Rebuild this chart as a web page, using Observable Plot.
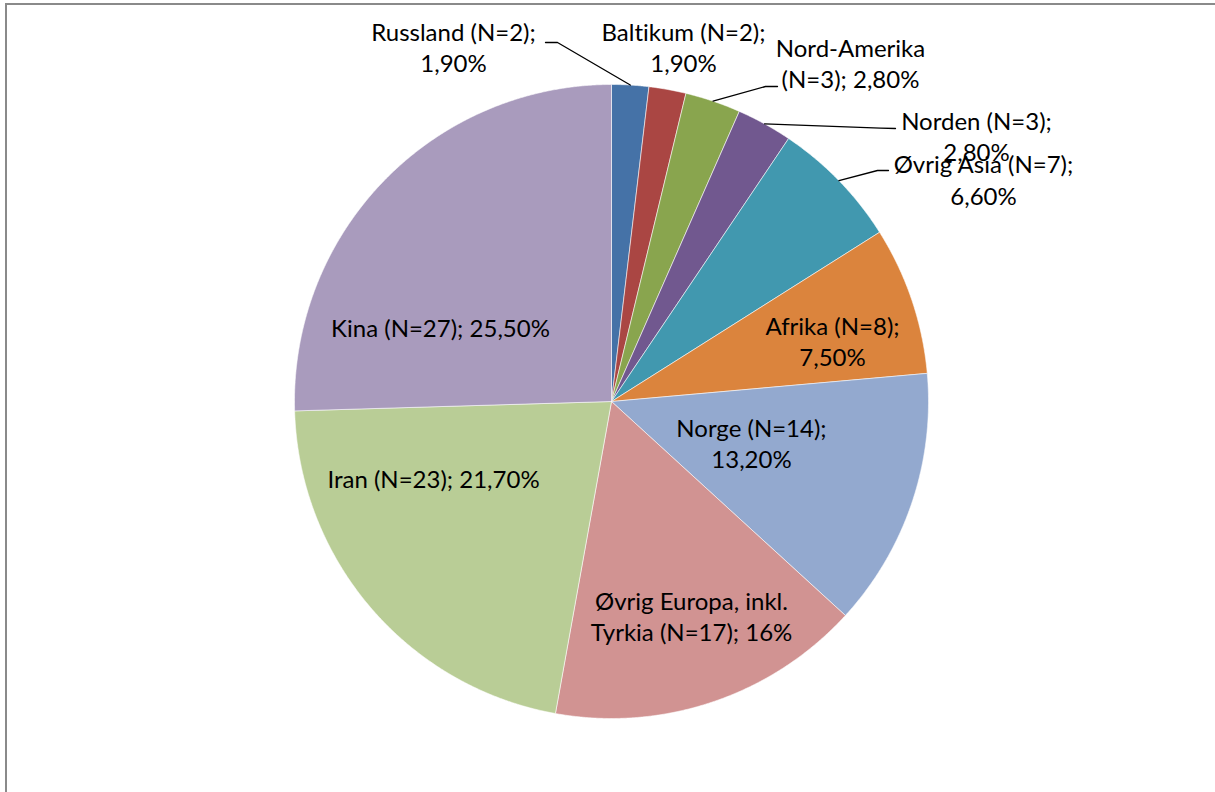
<!DOCTYPE html>
<html>
<head>
<meta charset="utf-8">
<script src="https://cdn.jsdelivr.net/npm/d3@7"></script>
<script src="https://cdn.jsdelivr.net/npm/@observablehq/plot@0.6"></script>
<style>
  html, body { margin: 0; padding: 0; background: #fff; overflow: hidden; width: 1215px; height: 792px; }
  #wrap { position: relative; width: 1215px; height: 792px; }
  #border { position: absolute; left: 5px; top: 3px; width: 1400px; height: 1000px; border: 2px solid #8a8a8a; box-sizing: border-box; pointer-events: none; }
  #chart { position: absolute; left: 0; top: 0; }
  svg text { font-variant-ligatures: none; font-feature-settings: "liga" 0, "clig" 0; }
</style>
</head>
<body>
<div id="wrap"><div id="chart"></div><div id="border"></div></div>
<script>
// ---- data ----
const categories = ["Russland", "Baltikum", "Nord-Amerika", "Norden", "Øvrig Asia", "Afrika", "Norge", "Øvrig Europa, inkl. Tyrkia", "Iran", "Kina"];
const counts = [2, 2, 3, 3, 7, 8, 14, 17, 23, 27];
const percentLabels = ["1,90%", "1,90%", "2,80%", "2,80%", "6,60%", "7,50%", "13,20%", "16%", "21,70%", "25,50%"];

// ---- styles / layout ----
const colors = ["#4572A7", "#AA4643", "#89A54E", "#71588F", "#4198AF", "#DB843D", "#93A9CF", "#D19392", "#B9CD96", "#A99BBD"];
const cx = 611, cy = 401, R = 317;
const fontSize = 24;
const lineH = 1.32;
const textShift = -9;
// label layout in pixels: center x, middle y of the text block, line-break token
const labelLayout = [
  {px: 453, py: 55, brk: "; "},
  {px: 683, py: 55, brk: "; "},
  {px: 850, py: 71, brk: "Nord-Amerika "},
  {px: 976, py: 144, brk: "; "},
  {px: 983, py: 187.5, brk: "; "},
  {px: 832, py: 349, brk: "; "},
  {px: 751, py: 451, brk: "; "},
  {px: 691, py: 624, brk: "inkl. "},
  {px: 433, py: 486, brk: null},
  {px: 440, py: 335, brk: null}
];
// leader lines: pixel points near the label; the last point is on the slice's arc midpoint
const leaderLayout = [
  {i: 0, pts: [[545, 42], [557, 42]]},
  {i: 2, pts: [[777, 86], [765, 86]]},
  {i: 3, pts: [[895, 128], [880, 127.6]]},
  {i: 4, pts: [[888, 170], [877, 170]]}
];

const ux = px => (px - cx) / R;
const uy = py => (cy - py) / R;

// ---- slices ----
const arcs = d3.pie().sort(null).value(d => d)(counts);
const slicePts = [];
arcs.forEach((a, i) => {
  const name = categories[i];
  slicePts.push({name, x: 0, y: 0});
  const n = Math.max(2, Math.ceil((a.endAngle - a.startAngle) / 0.004));
  for (let k = 0; k <= n; k++) {
    const t = a.startAngle + (a.endAngle - a.startAngle) * k / n;
    slicePts.push({name, x: Math.sin(t), y: Math.cos(t)});
  }
  slicePts.push({name, x: 0, y: 0});
});

// ---- labels ----
const labels = categories.map((c, i) => {
  let s = `${c} (N=${counts[i]}); ${percentLabels[i]}`;
  const L = labelLayout[i];
  if (L.brk) s = s.replace(L.brk, L.brk.trimEnd() + "\n");
  return {text: s, x: ux(L.px), y: uy(L.py + textShift)};
});

// ---- leaders ----
const leaderPts = [];
leaderLayout.forEach(l => {
  l.pts.forEach(p => leaderPts.push({id: l.i, x: ux(p[0]), y: uy(p[1])}));
  const a = arcs[l.i];
  const m = (a.startAngle + a.endAngle) / 2;
  leaderPts.push({id: l.i, x: Math.sin(m), y: Math.cos(m)});
});

const chart = Plot.plot({
  width: 1215,
  height: 792,
  margin: 0,
  x: {domain: [-1, 1], range: [cx - R, cx + R], axis: null},
  y: {domain: [-1, 1], range: [cy + R, cy - R], axis: null},
  color: {domain: categories, range: colors},
  style: {background: "transparent"},
  marks: [
    Plot.line(slicePts, {x: "x", y: "y", z: "name", fill: "name", stroke: "#ffffff", strokeWidth: 0.7, strokeOpacity: 0.8}),
    Plot.line(leaderPts, {x: "x", y: "y", z: "id", stroke: "#000", strokeWidth: 1.3}),
    Plot.text(labels, {x: "x", y: "y", text: "text", fill: "#000", fontSize, fontFamily: "Lato", lineHeight: lineH, textAnchor: "middle"})
  ]
});
document.getElementById("chart").appendChild(chart);
</script>
</body>
</html>
